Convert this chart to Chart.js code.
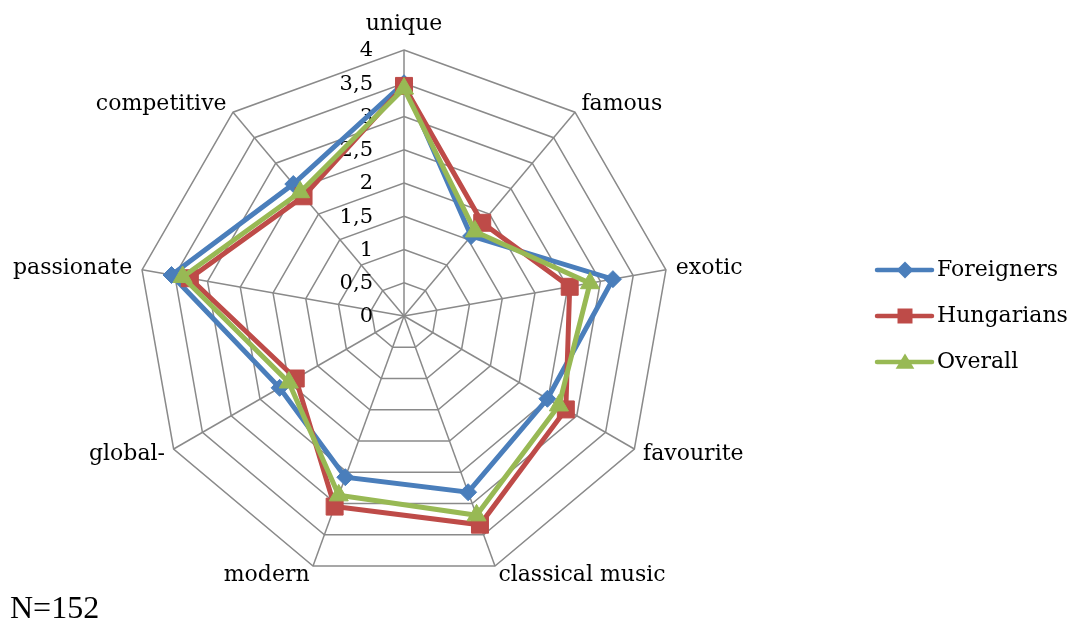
<!DOCTYPE html>
<html>
<head>
<meta charset="utf-8">
<title>Image survey radar</title>
<script src="https://cdn.jsdelivr.net/npm/chart.js@4"></script>
<style>
  body { margin: 0; background: #fff; }
  canvas { display: block; }
</style>
</head>
<body>
<canvas id="radar" width="1073" height="623"></canvas>
<script>
// Attributes (axes), clockwise from the top
const attributes = ['unique', 'famous', 'exotic', 'favourite', 'classical music', 'modern', 'global-', 'passionate', 'competitive'];

// Mean scores
const foreigners = [3.50, 1.57, 3.19, 2.49, 2.82, 2.58, 2.16, 3.55, 2.59];
const hungarians = [3.46, 1.83, 2.53, 2.81, 3.34, 3.05, 1.88, 3.27, 2.35];
const overall = [3.42, 1.66, 2.84, 2.69, 3.19, 2.87, 2.00, 3.38, 2.43];

// Radial axis
const scaleMin = 0;
const scaleMax = 4;
const scaleStep = 0.5;

const sampleNote = 'N=152';

// Series styling
const series = [
    { label: 'Foreigners', data: foreigners, color: '#4a7ebb', marker: 'rectRot', radius: 8.5, order: 3 },
    { label: 'Hungarians', data: hungarians, color: '#be4b48', marker: 'rect', radius: 12, order: 2 },
    { label: 'Overall', data: overall, color: '#98b954', marker: 'triangle', radius: 11, order: 1 }
];

const gridColor = '#8a8a8a';
const serif = '"DejaVu Serif", serif';

// Small marker helper for the legend
function drawMarker(ctx, style, x, y, size) {
    ctx.beginPath();
    if (style === 'rectRot') {
        ctx.moveTo(x, y - size);
        ctx.lineTo(x + size, y);
        ctx.lineTo(x, y + size);
        ctx.lineTo(x - size, y);
    } else if (style === 'rect') {
        ctx.rect(x - size, y - size, size * 2, size * 2);
    } else {
        ctx.moveTo(x, y - size);
        ctx.lineTo(x + size * 1.1, y + size * 0.8);
        ctx.lineTo(x - size * 1.1, y + size * 0.8);
    }
    ctx.closePath();
    ctx.fill();
}

// Tick labels with decimal commas, drawn under the lines
const tickLabels = {
    id: 'tickLabels',
    beforeDatasetsDraw(chart) {
        const scale = chart.scales.r;
        const ctx = chart.ctx;
        ctx.save();
        ctx.font = '21px ' + serif;
        ctx.fillStyle = '#000';
        ctx.textAlign = 'right';
        ctx.textBaseline = 'middle';
        scale.ticks.forEach(t => {
            const y = scale.yCenter - scale.getDistanceFromCenterForValue(t.value);
            ctx.fillText(String(t.value).replace('.', ','), scale.xCenter - 31, y + 1);
        });
        ctx.restore();
    }
};

// Axis names, legend and the sample note
const extraText = {
    id: 'extraText',
    afterDraw(chart) {
        const scale = chart.scales.r;
        const ctx = chart.ctx;
        ctx.save();
        ctx.fillStyle = '#000';
        ctx.font = '22px ' + serif;
        ctx.textBaseline = 'middle';
        attributes.forEach((label, i) => {
            const p = scale.getPointPosition(i, scale.drawingArea + 10);
            let align = 'center';
            if (p.x > scale.xCenter + 5) align = 'left';
            else if (p.x < scale.xCenter - 5) align = 'right';
            ctx.textAlign = align;
            const y = align === 'center' ? p.y - 16 : p.y;
            ctx.fillText(label, p.x, y);
        });

        // Legend
        const legendX = 877;
        const legendY = 270;
        const legendGap = 46;
        series.forEach((s, i) => {
            const y = legendY + i * legendGap;
            ctx.strokeStyle = s.color;
            ctx.fillStyle = s.color;
            ctx.lineWidth = 4.5;
            ctx.lineCap = 'round';
            ctx.beginPath();
            ctx.moveTo(legendX, y);
            ctx.lineTo(legendX + 55, y);
            ctx.stroke();
            drawMarker(ctx, s.marker, legendX + 28, y, s.marker === 'rect' ? 7.5 : 8.5);
            ctx.fillStyle = '#000';
            ctx.textAlign = 'left';
            ctx.fillText(s.label, legendX + 60, y);
        });

        ctx.font = '32px "Liberation Serif", serif';
        ctx.textAlign = 'left';
        ctx.textBaseline = 'alphabetic';
        ctx.fillText(sampleNote, 10, 618);
        ctx.restore();
    }
};

new Chart(document.getElementById('radar'), {
    type: 'radar',
    data: {
        labels: attributes,
        datasets: series.map(s => ({
            label: s.label,
            data: s.data,
            order: s.order,
            fill: false,
            borderColor: s.color,
            backgroundColor: s.color,
            borderWidth: 5,
            pointStyle: s.marker,
            pointRadius: s.radius,
            pointBackgroundColor: s.color,
            pointBorderColor: s.color,
            pointBorderWidth: 1,
            tension: 0
        }))
    },
    options: {
        responsive: false,
        animation: false,
        layout: {
            padding: { top: 50, bottom: 41, left: 138, right: 403 }
        },
        plugins: {
            legend: { display: false },
            tooltip: { enabled: false }
        },
        scales: {
            r: {
                min: scaleMin,
                max: scaleMax,
                ticks: { stepSize: scaleStep, display: false },
                pointLabels: { display: false },
                grid: { color: gridColor, lineWidth: 1.5, circular: false },
                angleLines: { color: gridColor, lineWidth: 1.5 }
            }
        }
    },
    plugins: [tickLabels, extraText]
});
</script>
</body>
</html>
